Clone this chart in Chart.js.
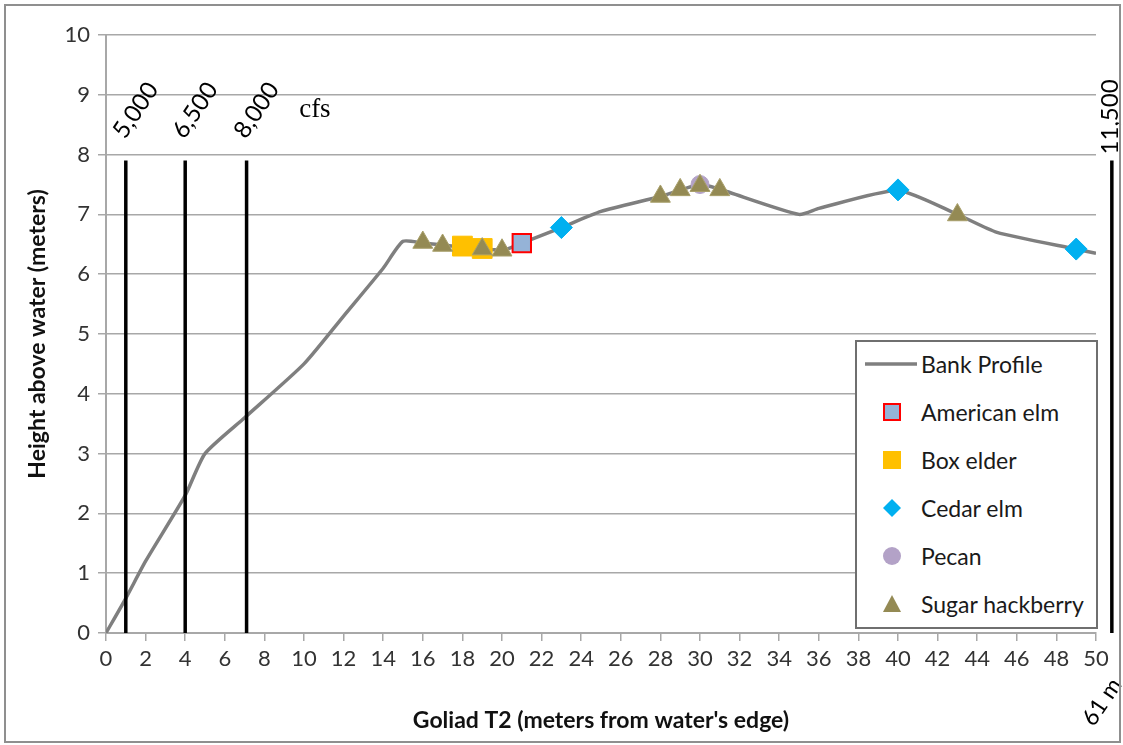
<!DOCTYPE html>
<html><head><meta charset="utf-8">
<script src="https://cdn.jsdelivr.net/npm/chart.js@4"></script>
<style>
html,body{margin:0;padding:0;background:#fff;}
#wrap{position:relative;width:1123px;height:745px;overflow:hidden;}
#frame{position:absolute;left:4px;top:4px;width:1113px;height:735px;border:2px solid #8f8f8f;pointer-events:none;}
#legend{position:absolute;background:#fff;border:2px solid #6f6f6f;font-family:Lato,'Open Sans',sans-serif;font-size:23px;color:#1a1a1a;box-sizing:border-box;}
.row{position:absolute;left:0;height:30px;line-height:30px;white-space:nowrap;}
.row .txt{position:absolute;left:64px;top:0;}
.row svg{position:absolute;left:8px;top:0;}
</style></head>
<body>
<div id="wrap">
<canvas id="c" width="1123" height="745"></canvas>
<div id="legend"></div>
<div id="frame"></div>
</div>
<script>
// ---- data ----
const profileX = [0, 1, 2, 4, 5, 7, 10, 12, 14, 15, 16, 20, 21, 23, 25, 28, 30, 31, 35, 36, 40, 43, 45, 49, 50];
const profileY = [0, 0.58, 1.2, 2.3, 3.0, 3.6, 4.5, 5.3, 6.1, 6.55, 6.52, 6.4, 6.52, 6.78, 7.05, 7.3, 7.5, 7.42, 7.0, 7.1, 7.4, 7.0, 6.7, 6.42, 6.35];

const amElmX = [21];
const amElmY = [6.52];
const boxElderX = [18, 19];
const boxElderY = [6.47, 6.43];
const cedarElmX = [23, 40, 49];
const cedarElmY = [6.78, 7.41, 6.42];
const pecanX = [30];
const pecanY = [7.5];
const hackX = [16, 17, 19, 20, 28, 29, 30, 31, 43];
const hackY = [6.53, 6.48, 6.42, 6.4, 7.3, 7.41, 7.48, 7.41, 6.99];

const flowX = [1, 4, 7.1, 50.8];
const flowLabels = ['5,000', '6,500', '8,000', '11,500'];
const flowTop = 7.9;

const seriesNames = ['Bank Profile', 'American elm', 'Box elder', 'Cedar elm', 'Pecan', 'Sugar hackberry'];
const xAxisTitle = "Goliad T2 (meters from water's edge)";
const yAxisTitle = 'Height above water (meters)';
const unitLabel = 'cfs';
const endLabel = '61 m';

const pts = (xs, ys) => xs.map((v, i) => ({x: v, y: ys[i]}));

const GRID = '#a8a8a8';
const FONT = "Lato, 'Open Sans', sans-serif";

const datasets = [
  {label: seriesNames[5], data: pts(hackX, hackY), pointStyle: 'triangle', pointRadius: 11.5,
   backgroundColor: '#948a54', borderColor: '#a89f6a', borderWidth: 1, showLine: false, order: 0},
  {label: seriesNames[4], data: pts(pecanX, pecanY), pointStyle: 'circle', pointRadius: 9,
   backgroundColor: '#b3a2c7', borderColor: '#b3a2c7', borderWidth: 1, showLine: false, order: 1},
  {label: seriesNames[3], data: pts(cedarElmX, cedarElmY), pointStyle: 'rectRot', pointRadius: 11,
   backgroundColor: '#00b0f0', borderColor: '#00b0f0', borderWidth: 1, showLine: false, order: 2},
  {label: seriesNames[2], data: pts(boxElderX, boxElderY), pointStyle: 'rect', pointRadius: 14,
   backgroundColor: '#ffc000', borderColor: '#ffc000', borderWidth: 1, showLine: false, order: 3},
  {label: seriesNames[1], data: pts(amElmX, amElmY), pointStyle: 'rect', pointRadius: 13,
   backgroundColor: '#95b3d7', borderColor: '#ff0000', borderWidth: 2, showLine: false, order: 4},
];
flowX.forEach((fx, i) => {
  datasets.push({label: 'flow ' + flowLabels[i], data: [{x: fx, y: 0}, {x: fx, y: flowTop}],
    showLine: true, borderColor: '#000', borderWidth: 3.5, pointRadius: 0, clip: false, order: 5});
});
datasets.push({label: seriesNames[0], data: pts(profileX, profileY), showLine: true,
  borderColor: '#7f7f7f', borderWidth: 3.5, pointRadius: 0, tension: 0.2, order: 10});

const annot = {
  id: 'annot',
  afterDatasetsDraw(chart) {
    const {ctx, scales: {x, y}} = chart;
    ctx.save();
    ctx.fillStyle = '#000';
    ctx.textAlign = 'center';
    ctx.textBaseline = 'middle';
    ctx.font = '24px ' + FONT;
    flowX.forEach((fx, i) => {
      ctx.save();
      if (i < 3) {
        ctx.translate(x.getPixelForValue(fx) + 10, y.getPixelForValue(8.74));
        ctx.rotate(-56 * Math.PI / 180);
      } else {
        ctx.translate(x.getPixelForValue(fx) - 2, y.getPixelForValue(8.63));
        ctx.rotate(-Math.PI / 2);
      }
      ctx.fillText(flowLabels[i], 0, 0);
      ctx.restore();
    });
    ctx.font = "27px 'Liberation Serif', serif";
    ctx.fillText(unitLabel, x.getPixelForValue(10.55), y.getPixelForValue(8.75));
    ctx.save();
    ctx.font = '23px ' + FONT;
    ctx.translate(x.getPixelForValue(50.3), y.getPixelForValue(0) + 69);
    ctx.rotate(-56 * Math.PI / 180);
    ctx.fillText(endLabel, 0, 0);
    ctx.restore();
    ctx.restore();
  }
};

const chart = new Chart(document.getElementById('c'), {
  type: 'scatter',
  data: {datasets},
  options: {
    responsive: false,
    animation: false,
    layout: {padding: {left: 20, top: 35, right: 27, bottom: 0}},
    plugins: {legend: {display: false}, tooltip: {enabled: false}},
    scales: {
      x: {
        type: 'linear', min: 0, max: 50,
        afterFit: s => { s.height = 112; },
        ticks: {stepSize: 2, color: '#333', font: {family: FONT, size: 22}, padding: 5, maxRotation: 0},
        grid: {drawOnChartArea: false, drawTicks: true, tickLength: 8, color: GRID, lineWidth: 1.5},
        border: {display: true, color: GRID, width: 2},
        title: {display: true, text: xAxisTitle, color: '#111', font: {family: FONT, size: 23, weight: 'bold'}, padding: {top: 4, bottom: 11}}
      },
      y: {
        type: 'linear', min: 0, max: 10,
        afterFit: s => { s.width = 86; },
        ticks: {stepSize: 1, color: '#333', font: {family: FONT, size: 22}, padding: 8},
        grid: {drawOnChartArea: true, drawTicks: true, tickLength: 8, color: GRID, lineWidth: 1.5},
        border: {display: true, color: GRID, width: 2},
        title: {display: true, text: yAxisTitle, color: '#111', font: {family: FONT, size: 23, weight: 'bold'}, padding: {bottom: 4}}
      }
    }
  },
  plugins: [annot]
});

// ---- HTML legend, built from the series names ----
const leg = document.getElementById('legend');
const ca = chart.chartArea;
leg.style.left = (ca.right - 241) + 'px';
leg.style.top = '340px';
leg.style.width = '243px';
leg.style.height = '289px';
const markerSvg = {
  'Bank Profile': '<svg width="54" height="30"><line x1="0" y1="15" x2="52" y2="15" stroke="#7f7f7f" stroke-width="3.5"/></svg>',
  'American elm': '<svg width="54" height="30"><rect x="19" y="7" width="16" height="16" fill="#95b3d7" stroke="#ff0000" stroke-width="2"/></svg>',
  'Box elder': '<svg width="54" height="30"><rect x="18" y="6" width="18" height="18" fill="#ffc000"/></svg>',
  'Cedar elm': '<svg width="54" height="30"><polygon points="27,6 36,15 27,24 18,15" fill="#00b0f0"/></svg>',
  'Pecan': '<svg width="54" height="30"><circle cx="27" cy="15" r="9" fill="#b3a2c7"/></svg>',
  'Sugar hackberry': '<svg width="54" height="30"><polygon points="27,6 36,23 18,23" fill="#948a54"/></svg>'
};
seriesNames.forEach((n, i) => {
  const r = document.createElement('div');
  r.className = 'row';
  r.style.top = (7 + i * 48) + 'px';
  r.innerHTML = markerSvg[n] + '<span class="txt">' + n + '</span>';
  leg.appendChild(r);
});
</script>
</body></html>
